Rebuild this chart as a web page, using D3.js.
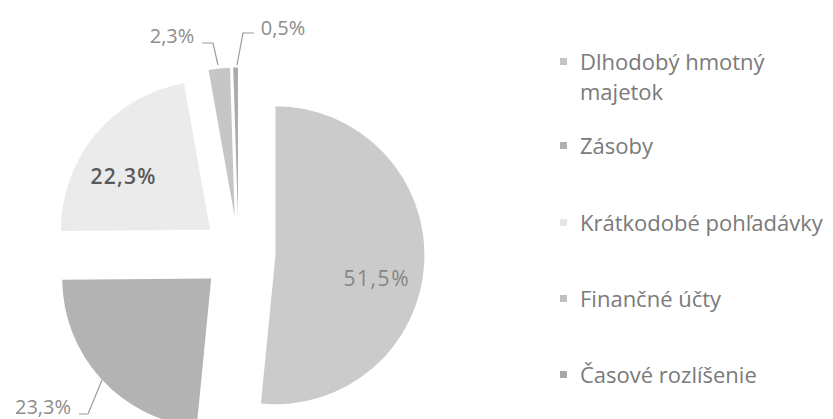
<!DOCTYPE html>
<html><head><meta charset="utf-8">
<script src="https://cdn.jsdelivr.net/npm/d3@7"></script>
<style>body{margin:0;background:#fff}svg{display:block}</style>
</head><body>
<svg id="c" width="833" height="419"></svg>
<script>
const categories = ["Dlhodobý hmotný majetok","Zásoby","Krátkodobé pohľadávky","Finančné účty","Časové rozlíšenie"];
const values = [51.5, 23.3, 22.3, 2.3, 0.5];
const labels = ["51,5%","23,3%","22,3%","2,3%","0,5%"];
const colors = ["#cbcbcb","#b3b3b3","#ebebeb","#c6c6c6","#ababab"];
const legendColors = ["#c4c4c4","#b0b0b0","#e6e6e6","#c0c0c0","#a8a8a8"];

const svg = d3.select("#c");
const font = "'Open Sans', sans-serif";
const cx = 238.5, cy = 253.5, r = 149, explode = 37;
const pie = d3.pie().sort(null).value(d => d)(values);
const arc = d3.arc().innerRadius(0).outerRadius(r);
const g = svg.append("g").attr("transform", `translate(${cx},${cy})`);
pie.forEach((p, i) => {
  const mid = (p.startAngle + p.endAngle) / 2;
  const dx = Math.sin(mid) * explode, dy = -Math.cos(mid) * explode;
  const sg = g.append("g").attr("transform", `translate(${dx},${dy})`);
  sg.append("path").attr("d", arc(p)).attr("fill", colors[i]);
});
// inside labels
const inside = [
  {i:0, x:376, y:278, fill:"#858585", w:"normal"},
  {i:2, x:123, y:176, fill:"#5a5a5a", w:"600"}
];
inside.forEach(o => svg.append("text").attr("x", o.x).attr("y", o.y).attr("text-anchor","middle")
  .attr("dominant-baseline","central").attr("font-family", font).attr("font-size", 21)
  .attr("font-weight", o.w).attr("fill", o.fill).attr("textLength", 65).text(labels[o.i]));
// outside labels
const outside = [
  {i:1, x:43, y:406, line:[[79,414],[88,414],[102,380]]},
  {i:3, x:172, y:35, line:[[202,43],[213,43],[218,65]]},
  {i:4, x:283, y:27, line:[[254,33],[243,33],[237,65]]}
];
outside.forEach(o => {
  svg.append("text").attr("x", o.x).attr("y", o.y).attr("text-anchor", "middle")
    .attr("dominant-baseline","central").attr("font-family", font).attr("font-size", 20)
    .attr("fill", "#8c8c8c").text(labels[o.i]);
  svg.append("path").attr("d", d3.line()(o.line)).attr("fill","none").attr("stroke","#9a9a9a").attr("stroke-width",1.2);
});
// legend
const legendRows = [["Dlhodobý hmotný","majetok"],["Zásoby"],["Krátkodobé pohľadávky"],["Finančné účty"],["Časové rozlíšenie"]];
const legendY = [61, 145, 222, 298, 374];
legendRows.forEach((rows, i) => {
  const y = legendY[i];
  svg.append("rect").attr("x", 560).attr("y", y - 3).attr("width", 7).attr("height", 7).attr("fill", legendColors[i]);
  rows.forEach((s, k) => svg.append("text").attr("x", 580).attr("y", y + k * 30)
    .attr("dominant-baseline","central").attr("font-family", font).attr("font-size", 22)
    .attr("fill", "#7a7a7a").text(s));
});
</script>
</body></html>
